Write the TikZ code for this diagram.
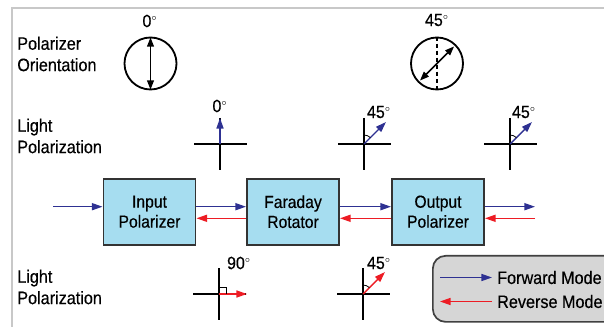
\documentclass[tikz,border=0pt]{standalone}
\usepackage{fontspec}
\setmainfont{Liberation Sans}[FakeStretch=0.9,FakeBold=0.4]
\usepackage{tikz}
\usetikzlibrary{arrows.meta,calc}
\definecolor{fwdblue}{HTML}{2E3192}
\definecolor{revred}{HTML}{ED1C24}
\definecolor{boxblue}{HTML}{A6DDF0}
\definecolor{leggray}{HTML}{D6D6D6}
\definecolor{framegray}{HTML}{C8C8C8}
\newcommand{\dg}{\ensuremath{{}^{\scriptscriptstyle\circ}}}

\begin{document}
\begin{tikzpicture}[x=0.025cm,y=-0.025cm,
  blk/.style={rectangle,draw=black!80,line width=1.4pt,fill=boxblue,minimum width=2.3cm,minimum height=1.65cm,align=center,font=\fontsize{12.4}{14.2}\selectfont},
  pol/.style={circle,draw,line width=1.3pt,minimum size=1.3cm,inner sep=0pt},
  lbl/.style={align=left,anchor=west,inner sep=0pt,font=\fontsize{12.8}{15.2}\selectfont},
  ang/.style={inner sep=0pt,font=\fontsize{12.6}{14}\selectfont},
  legtxt/.style={anchor=west,inner sep=3.5pt,font=\fontsize{12.8}{14}\selectfont},
  legbox/.style={rectangle,rounded corners=9pt,draw=black!75,line width=1.2pt,fill=leggray,minimum width=4.9cm,minimum height=1.65cm},
  axis/.style={line width=1.1pt},
  fwd/.style={draw=fwdblue,line width=1pt,-{Triangle[length=7.5pt,width=5pt]}},
  rev/.style={draw=revred,line width=1pt,-{Triangle[length=7.5pt,width=5pt]}},
  dbl/.style={line width=1.1pt,{Triangle[length=6.5pt,width=4.8pt]}-{Triangle[length=6.5pt,width=4.8pt]}}]
  \useasboundingbox (0,0) rectangle (604,327);
  \clip (0,0) rectangle (604,327);
  \draw[framegray,line width=0.8pt] (604,8) -- (12,8) -- (12,327);

  \node[lbl] (ori) at (17,54) {Polarizer\\Orientation};
  \node[lbl] (lp1) at (17,136) {Light\\Polarization};
  \node[lbl] (lp2) at (17,287) {Light\\Polarization};

  \node[ang] (d1) at (150,21) {0\dg};
  \node[pol] (pol1) at (150.5,63.5) {};
  \draw[dbl,shorten >=0.6pt,shorten <=0.6pt] (pol1.north) -- (pol1.south);
  \node[ang] (d2) at (437,20) {45\dg};
  \node[pol] (pol2) at (437,63.5) {};
  \draw[line width=1pt,dash pattern=on 3pt off 2pt] (pol2.north) -- (pol2.south);
  \draw[dbl,shorten >=2pt,shorten <=2pt] (pol2.south west) -- (pol2.north east);

  \coordinate (x1) at (220,144);
  \coordinate (x2) at (364,144);
  \coordinate (x3) at (510,144);
  \coordinate (x4) at (219,294);
  \coordinate (x5) at (363,294);
  \draw[axis] (x1) +(-26,0) -- +(27,0); \draw[axis] (x1) +(0,-26) -- +(0,26);
  \draw[axis] (x2) +(-26,0) -- +(27,0); \draw[axis] (x2) +(0,-26) -- +(0,26);
  \draw[axis] (x3) +(-26,0) -- +(27,0); \draw[axis] (x3) +(0,-26) -- +(0,26);
  \draw[axis] (x4) +(-26,0) -- +(27,0); \draw[axis] (x4) +(0,-26) -- +(0,26);
  \draw[axis] (x5) +(-26,0) -- +(27,0); \draw[axis] (x5) +(0,-26) -- +(0,26);
  \draw[fwd] (x1) -- ++(0,-26);
  \draw[fwd] (x2) -- ++(22,-22);
  \draw[fwd] (x3) -- ++(22,-22);
  \draw[rev] (x4) -- ++(28,0);
  \draw[rev] (x5) -- ++(22,-22);
  \draw[line width=0.6pt] ($(x2)+(0,-9)$) arc[start angle=-90,end angle=-45,radius=9];
  \draw[line width=0.6pt] ($(x3)+(0,-9)$) arc[start angle=-90,end angle=-45,radius=9];
  \draw[line width=0.6pt] ($(x5)+(0,-9)$) arc[start angle=-90,end angle=-45,radius=9];
  \draw[line width=0.7pt] ($(x4)+(0,-7)$) -| ($(x4)+(7,0)$);
  \node[ang] (a1) at (220,106) {0\dg};
  \node[ang] (a2) at (379,112) {45\dg};
  \node[ang] (a3) at (524,112) {45\dg};
  \node[ang] (a4) at (239,263) {90\dg};
  \node[ang] (a5) at (379,263) {45\dg};

  \node[blk] (inp) at (149.5,211.7) {Input\\Polarizer};
  \node[blk] (far) at (293,211.7) {Faraday\\Rotator};
  \node[blk] (outp) at (438,211.7) {Output\\Polarizer};
  \coordinate (src) at (53,206.7);
  \coordinate (dst) at (535,206.7);
  \coordinate (rsrc) at (535,218.3);
  \draw[fwd] (src) -- (inp.west |- src);
  \draw[fwd] (inp.east |- src) -- (far.west |- src);
  \draw[fwd] (far.east |- src) -- (outp.west |- src);
  \draw[fwd] (outp.east |- src) -- (dst);
  \draw[rev] (rsrc) -- (outp.east |- rsrc);
  \draw[rev] (outp.west |- rsrc) -- (far.east |- rsrc);
  \draw[rev] (far.west |- rsrc) -- (inp.east |- rsrc);

  \node[legbox,anchor=north west] (leg) at (432,255) {};
  \node[legtxt] (fwdtxt) at (492,277.5) {Forward Mode};
  \node[legtxt] (revtxt) at (492,301.5) {Reverse Mode};
  \coordinate (fa) at (440,277.5);
  \coordinate (ra) at (440,301.5);
  \draw[fwd] (fa) -- (fwdtxt.west);
  \draw[rev] (revtxt.west) -- (ra);
\end{tikzpicture}
\end{document}
